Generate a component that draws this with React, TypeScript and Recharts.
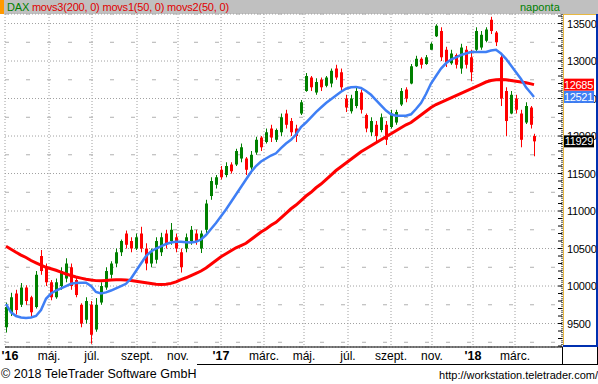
import React from 'react';
import { ComposedChart, Bar, Line, XAxis, YAxis, CartesianGrid, ReferenceLine } from 'recharts';

// trading-day index of each weekly sample
const days = [
  1, 6, 11, 16, 21, 26, 31, 36, 41, 46,
  51, 56, 61, 66, 71, 76, 81, 86, 91, 96,
  101, 106, 111, 116, 121, 126, 131, 136, 141, 146,
  151, 156, 161, 166, 171, 176, 181, 186, 191, 196,
  201, 206, 211, 216, 221, 226, 231, 236, 241, 246,
  251, 256, 261, 266, 271, 276, 281, 286, 291, 296,
  301, 306, 311, 316, 321, 326, 331, 336, 341, 346,
  351, 356, 361, 366, 371, 376, 381, 386, 391, 396,
  401, 406, 411, 416, 421, 426, 431, 436, 441, 446,
  451, 456, 461, 466, 471, 476, 481, 486, 491, 496,
  501, 506, 511, 516, 521, 526, 529,
];

const opens = [
  9450, 9650, 9900, 9750, 9980, 9850, 9720, 10400, 10250, 10050,
  9850, 10000, 10100, 10250, 10080, 9750, 9550, 9750, 9420, 9780,
  9980, 10150, 10300, 10450, 10700, 10600, 10500, 10700, 10500, 10300,
  10350, 10450, 10700, 10600, 10650, 10450, 10500, 10600, 10700, 10500,
  10750, 11200, 11350, 11550, 11480, 11620, 11620, 11700, 11700, 11580,
  11780, 11980, 11920, 12100, 11950, 12050, 12300, 12200, 12100, 12300,
  12600, 12780, 12580, 12750, 12670, 12700, 12900, 12850, 12500, 12330,
  12400, 12580, 12280, 12050, 12150, 12080, 12150, 12120, 12180, 12420,
  12620, 12700, 12930, 13030, 12960, 13150, 13330, 13400, 13150, 12970,
  13080, 12900, 13150, 13050, 13150, 13180, 13270, 13550, 13380, 13050,
  12600, 12300, 12500, 12300, 12180, 12380, 12000,
];

const highs = [
  9780, 9910, 9950, 10040, 10010, 9870, 10200, 10480, 10300, 10080,
  10100, 10250, 10370, 10300, 10120, 9770, 9850, 9800, 9840, 10050,
  10250, 10330, 10500, 10620, 10740, 10650, 10700, 10790, 10570, 10500,
  10650, 10710, 10750, 10840, 10700, 10500, 10700, 10800, 10750, 10740,
  11150, 11450, 11480, 11600, 11650, 11650, 11830, 11900, 11720, 11800,
  11990, 12000, 12100, 12150, 12100, 12300, 12350, 12240, 12150, 12480,
  12840, 12800, 12770, 12780, 12800, 12900, 12950, 12900, 12550, 12550,
  12650, 12620, 12300, 12250, 12200, 12300, 12200, 12350, 12350, 12640,
  12650, 12960, 13070, 13050, 13080, 13250, 13490, 13450, 13190, 13150,
  13100, 13230, 13200, 13150, 13450, 13400, 13450, 13590, 13400, 13100,
  12650, 12600, 12550, 12350, 12450, 12400, 12030,
];

const lows = [
  9380, 9600, 9620, 9720, 9750, 9590, 9700, 10150, 10000, 9810,
  9830, 9950, 10050, 9950, 9850, 9450, 9500, 9230, 9390, 9750,
  9950, 10100, 10250, 10400, 10500, 10450, 10480, 10450, 10210, 10250,
  10300, 10400, 10500, 10550, 10450, 10180, 10450, 10550, 10550, 10440,
  10700, 11150, 11300, 11420, 11450, 11500, 11600, 11650, 11480, 11550,
  11750, 11800, 11900, 11920, 11920, 12000, 12100, 12000, 11920, 12280,
  12590, 12600, 12550, 12600, 12650, 12650, 12750, 12600, 12320, 12300,
  12370, 12300, 12050, 12000, 11930, 12050, 11880, 12100, 12150, 12400,
  12450, 12690, 12920, 12900, 12950, 13150, 13320, 13000, 12920, 12950,
  12900, 12830, 12900, 12730, 13130, 13150, 13250, 13360, 13200, 12400,
  12000, 12290, 12300, 11850, 12160, 12100, 11730,
];

const closes = [
  9720, 9850, 9680, 9980, 9800, 9650, 10150, 10200, 10050, 9850,
  10050, 10200, 10300, 10000, 9880, 9500, 9800, 9350, 9750, 10000,
  10200, 10300, 10450, 10600, 10550, 10500, 10650, 10500, 10300, 10450,
  10600, 10650, 10550, 10750, 10500, 10250, 10650, 10750, 10600, 10700,
  11100, 11400, 11450, 11450, 11600, 11530, 11800, 11850, 11550, 11750,
  11950, 11850, 12050, 11980, 12080, 12250, 12150, 12050, 12000, 12450,
  12800, 12650, 12720, 12650, 12780, 12870, 12780, 12650, 12380, 12500,
  12600, 12350, 12100, 12200, 12000, 12250, 11950, 12300, 12320, 12600,
  12500, 12930, 13030, 12950, 13050, 13230, 13470, 13050, 12980, 13100,
  12950, 13180, 12950, 12850, 13400, 13350, 13420, 13400, 13250, 12500,
  12200, 12550, 12350, 11950, 12400, 12150, 11929,
];

const ma50 = [
  9760, 9650, 9600, 9580, 9575, 9580, 9600, 9680, 9830, 9900,
  9940, 9970, 10000, 10030, 10040, 10045, 10045, 10000, 9920, 9900,
  9915, 9940, 9970, 10000, 10030, 10100, 10200, 10300, 10400, 10460,
  10500, 10530, 10560, 10580, 10590, 10590, 10585, 10580, 10590, 10620,
  10680, 10760, 10840, 10930, 11020, 11120, 11220, 11320, 11420, 11520,
  11600, 11660, 11700, 11740, 11770, 11840, 11900, 11950, 12020, 12120,
  12180, 12250, 12320, 12380, 12440, 12490, 12540, 12590, 12630, 12650,
  12655, 12640, 12600, 12550, 12480, 12410, 12340, 12290, 12270, 12270,
  12270, 12290, 12360, 12440, 12560, 12700, 12800, 12900, 12970, 13020,
  13050, 13080, 13100, 13120, 13120, 13120, 13120, 13140, 13150, 13100,
  13030, 12940, 12850, 12760, 12650, 12570, 12521,
];

const ma200 = [
  10530, 10490, 10450, 10413, 10380, 10340, 10310, 10280, 10250, 10230,
  10210, 10185, 10160, 10140, 10120, 10105, 10090, 10080, 10072, 10070,
  10075, 10080, 10085, 10085, 10080, 10075, 10065, 10055, 10045, 10035,
  10025, 10020, 10025, 10035, 10055, 10085, 10110, 10140, 10170, 10200,
  10240, 10290, 10340, 10390, 10430, 10470, 10510, 10540, 10570, 10620,
  10670, 10720, 10760, 10810, 10850, 10910, 10970, 11030, 11080, 11140,
  11200, 11250, 11310, 11360, 11420, 11480, 11540, 11590, 11640, 11690,
  11740, 11790, 11830, 11870, 11910, 11950, 11990, 12030, 12070, 12110,
  12150, 12180, 12230, 12280, 12330, 12380, 12420, 12450, 12480, 12510,
  12540, 12570, 12600, 12630, 12660, 12690, 12720, 12740, 12750, 12755,
  12750, 12740, 12730, 12720, 12710, 12695, 12685,
];

const monthTicks = [5, 44, 87, 132, 173, 216, 259, 299, 343, 386, 427, 468, 510];
const monthLabels = ["'16", 'máj.', 'júl.', 'szept.', 'nov.', "'17", 'márc.', 'máj.', 'júl.', 'szept.', 'nov.', "'18", 'márc.'];
const gridDays = [44, 87, 132, 173, 216, 259, 299, 343, 386, 427, 468, 510];
const priceLabels = [9500, 10000, 10500, 11000, 11500, 12000, 12500, 13000, 13500];
const minorGrid = [9250, 9750, 10250, 10750, 11250, 11750, 12250, 12750, 13250];
const smallTicks = Array.from({ length: 45 }, (_, i) => 9200 + i * 100);

const Y_DOMAIN: [number, number] = [9187, 13627];
const X_DOMAIN: [number, number] = [0, 557];
const FONT = '"Liberation Sans", Arial, sans-serif';
const MARGIN = { top: 14, right: 0, bottom: 0, left: 0 };

const data = days.map((t, i) => ({
  t,
  o: opens[i],
  h: highs[i],
  l: lows[i],
  c: closes[i],
  range: [lows[i], highs[i]],
  ma50: ma50[i],
  ma200: ma200[i],
}));

const Candle = (props: any) => {
  const { x, y, width, height, payload } = props;
  if (x == null || y == null || !payload) return null;
  const top = Math.min(y, y + height);
  const hgt = Math.abs(height);
  const cx = Math.round(x + width / 2);
  const span = payload.h - payload.l || 1;
  const py = (v: number) => top + ((payload.h - v) / span) * hgt;
  const b1 = Math.min(py(payload.o), py(payload.c));
  const b2 = Math.max(py(payload.o), py(payload.c));
  const col = payload.c >= payload.o ? '#008000' : '#ff0000';
  return (
    <g>
      <rect x={cx} y={top} width={1} height={Math.max(1, hgt)} fill={col} />
      <rect x={cx - 1} y={b1} width={3} height={Math.max(1.5, b2 - b1)} fill={col} />
    </g>
  );
};

const MonthTick = (props: any) => {
  const { x, y, payload } = props;
  const idx = monthTicks.indexOf(payload.value);
  const label = monthLabels[idx] ?? '';
  const bold = label.startsWith("'");
  return (
    <text x={x} y={y + 13} textAnchor="middle" fontSize={bold ? 12.5 : 12} fontWeight={bold ? 'bold' : 'normal'} fill="#000" fontFamily={FONT}>
      {label}
    </text>
  );
};

const RightTick = (props: any) => {
  const { x, y, payload } = props;
  const v = payload.value;
  const show = priceLabels.includes(v);
  return (
    <g>
      <line x1={x - 4} x2={x} y1={y} y2={y} stroke="#000" />
      {show && (
        <text x={x + 5} y={y + 4} fontSize={11} letterSpacing={-0.2} fill="#000" fontFamily={FONT}>
          {v}
        </text>
      )}
    </g>
  );
};

const ValueBox = (fill: string, text: string) => (props: any) => {
  const vb = props.viewBox || {};
  const bx = (vb.x ?? 0) + (vb.width ?? 0) + 1;
  const by = (vb.y ?? 0) - 6;
  return (
    <g>
      <rect x={bx} y={by} width={31} height={12} fill={fill} />
      <text x={bx + 30} y={by + 10} textAnchor="end" fontSize={11} letterSpacing={-0.3} fill="#fff" fontFamily={FONT}>
        {text}
      </text>
    </g>
  );
};

const lastIdx = days.length - 1;

export default function App() {
  return (
    <div style={{ position: 'absolute', left: 0, top: 0, width: 598, height: 384, background: '#fff', overflow: 'hidden', fontFamily: FONT }}>
      {/* header */}
      <div style={{ position: 'absolute', left: 0, top: 0, width: 598, height: 14, background: '#c0c0c0' }} />
      <div style={{ position: 'absolute', left: 0, top: 0, width: 4, height: 14, background: '#ff9900' }} />
      <div style={{ position: 'absolute', left: 7, top: 0, height: 14, lineHeight: '14px', fontSize: 11, letterSpacing: -0.2, whiteSpace: 'nowrap' }}>
        <span style={{ color: '#008000' }}>DAX </span>
        <span style={{ color: '#e00000' }}>movs3(200, 0) movs1(50, 0) movs2(50, 0)</span>
      </div>
      <div style={{ position: 'absolute', left: 520, top: 0, height: 14, lineHeight: '14px', fontSize: 11, color: '#008000' }}>naponta</div>

      <div style={{ position: 'absolute', left: 0, top: 0 }}>
        <ComposedChart width={598} height={364} data={data} margin={MARGIN}>
          <XAxis
            dataKey="t"
            type="number"
            domain={X_DOMAIN}
            allowDataOverflow
            ticks={monthTicks}
            interval={0}
            tick={<MonthTick />}
            tickLine={false}
            tickSize={0}
            tickMargin={0}
            axisLine={{ stroke: '#000' }}
            height={17}
          />
          <XAxis xAxisId="g" dataKey="t" type="number" domain={X_DOMAIN} allowDataOverflow ticks={gridDays} interval={0} hide />
          <YAxis
            yAxisId="l"
            orientation="left"
            width={5}
            domain={Y_DOMAIN}
            allowDataOverflow
            ticks={smallTicks}
            interval={0}
            tick={false}
            tickSize={4}
            tickLine={{ stroke: '#000' }}
            axisLine={false}
          />
          <YAxis
            yAxisId="r"
            orientation="right"
            width={36}
            domain={Y_DOMAIN}
            allowDataOverflow
            ticks={smallTicks}
            interval={0}
            tick={<RightTick />}
            tickLine={false}
            tickSize={0}
            tickMargin={0}
            axisLine={{ stroke: '#000', strokeDasharray: '1 1' }}
          />
          <YAxis yAxisId="m" hide domain={Y_DOMAIN} allowDataOverflow ticks={minorGrid} interval={0} />
          <YAxis yAxisId="p" hide domain={Y_DOMAIN} allowDataOverflow ticks={priceLabels} interval={0} />
          <CartesianGrid xAxisId="g" yAxisId="p" stroke="#a0a0a0" strokeDasharray="1 2" />
          <CartesianGrid xAxisId="g" yAxisId="m" vertical={false} stroke="#b0b0b0" strokeDasharray="4 17" />
          <Bar yAxisId="r" dataKey="range" barSize={3} shape={<Candle />} isAnimationActive={false} />
          <Line yAxisId="r" dataKey="ma200" stroke="#ff0000" strokeWidth={3} dot={false} isAnimationActive={false} />
          <Line yAxisId="r" dataKey="ma50" stroke="#3f7ff5" strokeWidth={2.5} dot={false} isAnimationActive={false} />
        </ComposedChart>
      </div>

      {/* overlay chart: last-value boxes drawn above the axis labels */}
      <div style={{ position: 'absolute', left: 0, top: 0 }}>
        <ComposedChart width={598} height={364} data={data} margin={MARGIN}>
          <XAxis dataKey="t" type="number" domain={X_DOMAIN} allowDataOverflow tick={false} tickLine={false} axisLine={false} height={17} />
          <YAxis yAxisId="l" orientation="left" width={5} domain={Y_DOMAIN} allowDataOverflow tick={false} tickLine={false} axisLine={false} />
          <YAxis yAxisId="r" orientation="right" width={36} domain={Y_DOMAIN} allowDataOverflow tick={false} tickLine={false} axisLine={false} />
          <ReferenceLine yAxisId="r" y={ma200[lastIdx]} stroke="none" label={ValueBox('#ff0000', String(ma200[lastIdx]))} />
          <ReferenceLine yAxisId="r" y={ma50[lastIdx]} stroke="none" label={ValueBox('#3f7ff5', String(ma50[lastIdx]))} />
          <ReferenceLine yAxisId="r" y={closes[lastIdx]} stroke="none" label={ValueBox('#000', String(closes[lastIdx]))} />
        </ComposedChart>
      </div>

      {/* right panel frame */}
      <div style={{ position: 'absolute', left: 563, top: 14, width: 1, height: 333, background: '#e8b840' }} />
      <div style={{ position: 'absolute', left: 563, top: 14, width: 33, height: 1, background: '#e8b840' }} />
      <div style={{ position: 'absolute', left: 596, top: 14, width: 2, height: 333, background: '#0030b0' }} />
      <div style={{ position: 'absolute', left: 563, top: 345, width: 35, height: 2, background: '#0030b0' }} />
      {/* bottom right box & underline */}
      <div style={{ position: 'absolute', left: 562, top: 347, width: 1, height: 17, background: '#000' }} />
      <div style={{ position: 'absolute', left: 597, top: 347, width: 1, height: 17, background: '#000' }} />
      <div style={{ position: 'absolute', left: 197, top: 364, width: 401, height: 1, background: '#000' }} />

      {/* footer */}
      <div style={{ position: 'absolute', left: 1, top: 366, fontSize: 12.5, lineHeight: '16px', color: '#000', whiteSpace: 'nowrap' }}>
        © 2018 TeleTrader Software GmbH
      </div>
      <div style={{ position: 'absolute', right: 0, top: 367, fontSize: 11, lineHeight: '16px', color: '#000', whiteSpace: 'nowrap' }}>
        http://workstation.teletrader.com/
      </div>
    </div>
  );
}
